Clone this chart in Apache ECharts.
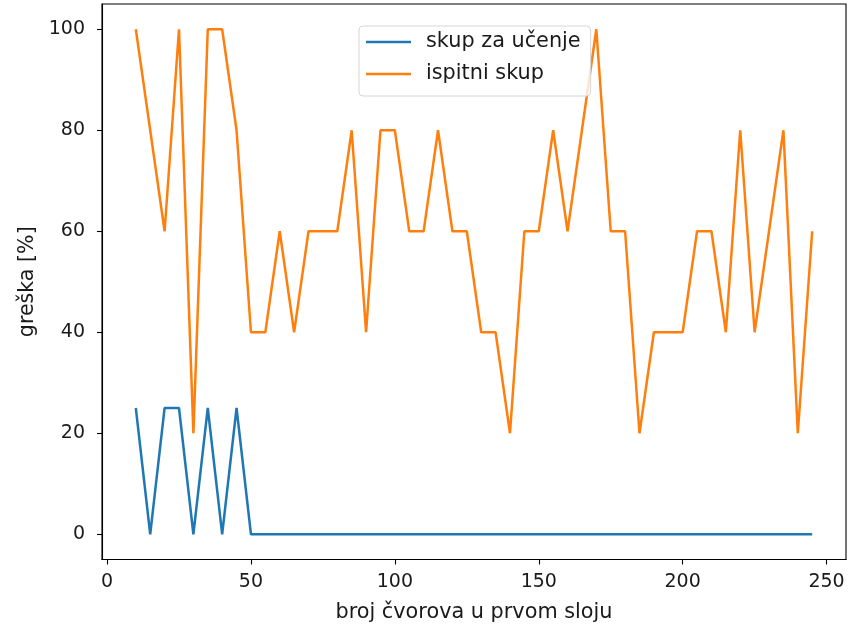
<!DOCTYPE html>
<html>
<head>
<meta charset="utf-8">
<script src="https://cdn.jsdelivr.net/npm/echarts@6/dist/echarts.min.js"></script>
<style>
  html, body { margin: 0; padding: 0; background: #fff; }
  #chart { width: 859px; height: 626px; }
</style>
</head>
<body>
<div id="chart"></div>
<script>
const xValues = [10, 15, 20, 25, 30, 35, 40, 45, 50, 55, 60, 65, 70, 75, 80, 85, 90, 95, 100, 105,
  110, 115, 120, 125, 130, 135, 140, 145, 150, 155, 160, 165, 170, 175, 180, 185, 190, 195, 200,
  205, 210, 215, 220, 225, 230, 235, 240, 245];
const trainErr = [25, 0, 25, 25, 0, 25, 0, 25, 0, 0, 0, 0, 0, 0, 0, 0, 0, 0, 0, 0,
  0, 0, 0, 0, 0, 0, 0, 0, 0, 0, 0, 0, 0, 0, 0, 0, 0, 0, 0,
  0, 0, 0, 0, 0, 0, 0, 0, 0];
const testErr = [100, 80, 60, 100, 20, 100, 100, 80, 40, 40, 60, 40, 60, 60, 60, 80, 40, 80, 80, 60,
  60, 80, 60, 60, 40, 40, 20, 60, 60, 80, 60, 80, 100, 60, 60, 20, 40, 40, 40,
  60, 60, 40, 80, 40, 60, 80, 20, 60];
const xTicks = [0, 50, 100, 150, 200, 250];
const yTicks = [0, 20, 40, 60, 80, 100];
const seriesNames = ['skup za učenje', 'ispitni skup'];
const xName = 'broj čvorova u prvom sloju';
const yName = 'greška [%]';

const FONT = 'DejaVu Sans';
const TXT = '#1a1a1a';
const chart = echarts.init(document.getElementById('chart'), null, { renderer: 'canvas' });
chart.setOption({
  animation: false,
  backgroundColor: '#fff',
  grid: {
    left: 102, top: 4, width: 744, height: 555.5,
    outerBoundsMode: 'none', containLabel: false,
    show: true, borderColor: '#000', borderWidth: 1.1, backgroundColor: 'transparent'
  },
  legend: {
    left: 359, top: 26, orient: 'vertical',
    padding: [5, 10, 11, 7],
    itemGap: 10, itemWidth: 45, itemHeight: 2.5,
    borderColor: '#d6d6d6', borderWidth: 1, borderRadius: 4,
    backgroundColor: 'rgba(255,255,255,0.8)',
    textStyle: { fontFamily: FONT, fontSize: 20.8, color: TXT, lineHeight: 22, padding: [0, 0, 0, 10] },
    data: [
      { name: seriesNames[0], icon: 'rect' },
      { name: seriesNames[1], icon: 'rect' }
    ]
  },
  xAxis: {
    type: 'value', min: -1.75, max: 256.75,
    name: xName, nameLocation: 'middle', nameGap: 43,
    nameTextStyle: { fontFamily: FONT, fontSize: 20.8, color: TXT },
    axisLine: { show: true, onZero: false, lineStyle: { color: '#000', width: 1.1 } },
    axisTick: { show: true, length: 5, lineStyle: { color: '#000', width: 1.1 }, customValues: xTicks },
    axisLabel: { fontFamily: FONT, fontSize: 19, color: TXT, margin: 13, customValues: xTicks },
    splitLine: { show: false }
  },
  yAxis: {
    type: 'value', min: -5, max: 105,
    name: yName, nameLocation: 'middle', nameGap: 62, nameRotate: 90,
    nameTextStyle: { fontFamily: FONT, fontSize: 20.6, color: TXT },
    axisLine: { show: true, onZero: false, lineStyle: { color: '#000', width: 1.1 } },
    axisTick: { show: true, length: 5, lineStyle: { color: '#000', width: 1.1 }, customValues: yTicks },
    axisLabel: { fontFamily: FONT, fontSize: 19, color: TXT, margin: 17, customValues: yTicks },
    splitLine: { show: false }
  },
  series: [
    {
      name: seriesNames[0], type: 'line', symbol: 'none',
      color: '#1f77b4', lineStyle: { width: 2.5, color: '#1f77b4' },
      data: xValues.map((x, i) => [x, trainErr[i]])
    },
    {
      name: seriesNames[1], type: 'line', symbol: 'none',
      color: '#ff7f0e', lineStyle: { width: 2.5, color: '#ff7f0e' },
      data: xValues.map((x, i) => [x, testErr[i]])
    }
  ]
});
</script>
</body>
</html>
